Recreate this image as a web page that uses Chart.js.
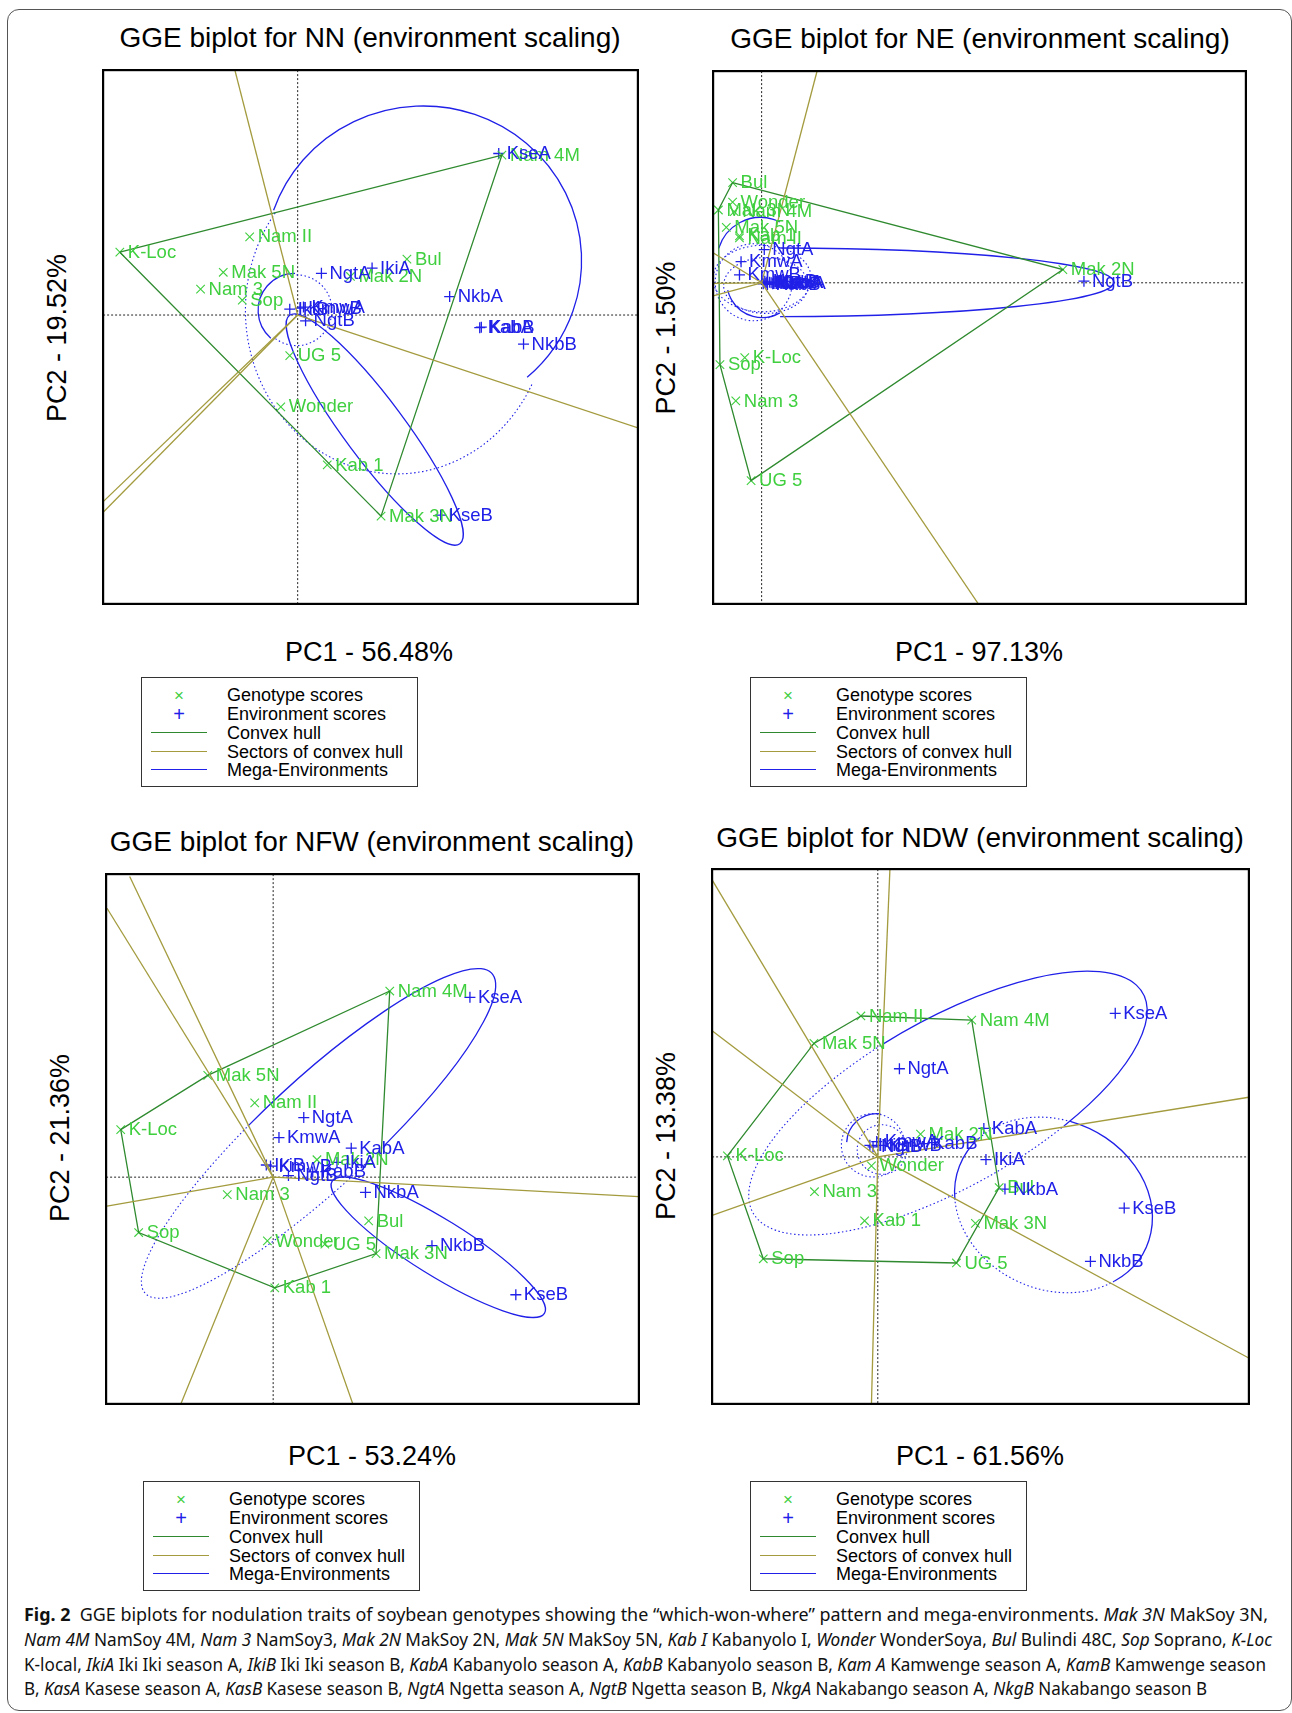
<!DOCTYPE html>
<html>
<head>
<meta charset="utf-8">
<title>GGE biplots for nodulation traits</title>
<script src="https://cdn.jsdelivr.net/npm/chart.js@4.4.1/dist/chart.umd.min.js"></script>
<style>
  html, body { margin: 0; padding: 0; background: #fff; }
  body { width: 1292px; height: 1713px; position: relative; overflow: hidden;
         font-family: "Liberation Sans", Arial, Helvetica, sans-serif; color: #000; }
  .frame { position: absolute; left: 7px; top: 9px; width: 1285px; height: 1702px;
           border: 1px solid #555; border-radius: 12px; box-sizing: border-box; }
  .t { position: absolute; white-space: nowrap; line-height: 1; transform: translate(-50%, -50%); }
  .title { font-size: 28px; }
  .axl { font-size: 27px; }
  .yl { transform: translate(-50%, -50%) rotate(-90deg); }
  .plot { position: absolute; }
  .legend { position: absolute; width: 277px; height: 110px; border: 1.5px solid #333;
            box-sizing: border-box; background: #fff; }
  .lg-row { position: absolute; left: 85px; font-size: 18px; line-height: 1; transform: translateY(-50%); white-space: nowrap; }
  .lg-sym { position: absolute; left: 37px; line-height: 1; transform: translate(-50%, -50%); }
  .lg-line { position: absolute; left: 9px; width: 56px; height: 0; }
  .cap { position: absolute; left: 24px; white-space: nowrap; font-family: "Noto Sans", "Open Sans", sans-serif;
         font-size: 18px; line-height: 1; transform-origin: 0 0; color: #111; }
  .cap b { font-weight: 700; }
</style>
</head>
<body>
<div class="frame"></div>

<div class="t title" style="left:370px;top:38px">GGE biplot for NN (environment scaling)</div>
<div class="t title" style="left:980px;top:38.5px">GGE biplot for NE (environment scaling)</div>
<div class="t title" style="left:372px;top:842px">GGE biplot for NFW (environment scaling)</div>
<div class="t title" style="left:980px;top:838px">GGE biplot for NDW (environment scaling)</div>

<div class="t axl" style="left:369px;top:652px">PC1 - 56.48%</div>
<div class="t axl" style="left:979px;top:652px">PC1 - 97.13%</div>
<div class="t axl" style="left:372px;top:1456px">PC1 - 53.24%</div>
<div class="t axl" style="left:980px;top:1456px">PC1 - 61.56%</div>

<div class="t axl yl" style="left:57px;top:338px">PC2 - 19.52%</div>
<div class="t axl yl" style="left:666px;top:338px">PC2 - 1.50%</div>
<div class="t axl yl" style="left:60px;top:1138px">PC2 - 21.36%</div>
<div class="t axl yl" style="left:666px;top:1136px">PC2 - 13.38%</div>

<div class="plot" style="left:96px;top:63px;width:549px;height:548px"><canvas id="nn" width="549" height="548"></canvas></div>
<div class="plot" style="left:706px;top:64px;width:547px;height:547px"><canvas id="ne" width="547" height="547"></canvas></div>
<div class="plot" style="left:99px;top:867px;width:547px;height:544px"><canvas id="nfw" width="547" height="544"></canvas></div>
<div class="plot" style="left:705px;top:862px;width:551px;height:549px"><canvas id="ndw" width="551" height="549"></canvas></div>

<div id="legends"></div>

<div class="cap" id="cap1" style="top:1605px"><b>Fig. 2</b>&nbsp; GGE biplots for nodulation traits of soybean genotypes showing the “which-won-where” pattern and mega-environments. <i>Mak 3N</i> MakSoy 3N,</div>
<div class="cap" id="cap2" style="top:1630px"><i>Nam 4M</i> NamSoy 4M, <i>Nam 3</i> NamSoy3, <i>Mak 2N</i> MakSoy 2N, <i>Mak 5N</i> MakSoy 5N, <i>Kab I</i> Kabanyolo I, <i>Wonder</i> WonderSoya, <i>Bul</i> Bulindi 48C, <i>Sop</i> Soprano, <i>K-Loc</i></div>
<div class="cap" id="cap3" style="top:1655px">K-local, <i>IkiA</i> Iki Iki season A, <i>IkiB</i> Iki Iki season B, <i>KabA</i> Kabanyolo season A, <i>KabB</i> Kabanyolo season B, <i>Kam A</i> Kamwenge season A, <i>KamB</i> Kamwenge season</div>
<div class="cap" id="cap4" style="top:1679px">B, <i>KasA</i> Kasese season A, <i>KasB</i> Kasese season B, <i>NgtA</i> Ngetta season A, <i>NgtB</i> Ngetta season B, <i>NkgA</i> Nakabango season A, <i>NkgB</i> Nakabango season B</div>

<script>
// ---------------------------------------------------------------
// Names shared by all four biplots
// ---------------------------------------------------------------
const genotypes = ['Mak 3N', 'Nam 4M', 'Nam 3', 'Mak 2N', 'Mak 5N', 'Kab 1',
                   'Wonder', 'Bul', 'Sop', 'K-Loc', 'Nam II', 'UG 5'];
const environments = ['IkiA', 'IkiB', 'KabA', 'KabB', 'KmwA', 'KmwB',
                      'KseA', 'KseB', 'NgtA', 'NgtB', 'NkbA', 'NkbB'];
const legendItems = ['Genotype scores', 'Environment scores', 'Convex hull',
                     'Sectors of convex hull', 'Mega-Environments'];

// ---------------------------------------------------------------
// NN: number of nodules
// ---------------------------------------------------------------
const nnGenoPC1 = [1.58, 3.87, -1.84, 1.00, -1.41, 0.56, -0.32, 2.07, -1.05, -3.37, -0.91, -0.15];
const nnGenoPC2 = [-3.81, 3.03, 0.49, 0.73, 0.81, -2.84, -1.74, 1.06, 0.28, 1.19, 1.48, -0.77];
const nnEnvPC1 = [1.41, -0.15, 3.45, 3.48, 0.11, 0.05, 3.81, 2.71, 0.45, 0.15, 2.88, 4.28];
const nnEnvPC2 = [0.89, 0.11, -0.24, -0.23, 0.15, 0.13, 3.06, -3.79, 0.79, -0.11, 0.35, -0.55];
const nnHull = ['K-Loc', 'Nam 4M', 'Mak 3N'];
const nnSectorPC1 = [-1.19, 6.45, -3.69, -3.69];
const nnSectorPC2 = [4.64, -2.14, -3.54, -3.74];
// mega-environment outlines: [PC1 centre, PC2 centre, radius 1, radius 2, tilt deg, from deg, to deg]
const nnMegaSolid = [[2.38, 1.03, 3.00, 2.93, 0, 199, 409], [-0.05, 0.09, 0.70, 0.70, 0, 131, 270],
                     [1.46, -2.17, 2.70, 0.57, 53.3, 0, 360]];
const nnMegaDotted = [[1.88, 0.09, 2.87, 3.10, 0, 27, 217], [-0.02, 0.09, 0.67, 0.67, 0, 270, 491]];

// ---------------------------------------------------------------
// NE: nodule effectiveness
// ---------------------------------------------------------------
const neGenoPC1 = [-0.82, -0.52, -0.49, 5.71, -0.67, -0.42, -0.55, -0.55, -0.79, -0.32, -0.42, -0.20];
const neGenoPC2 = [1.38, 1.35, -2.24, 0.25, 1.05, 0.89, 1.53, 1.90, -1.55, -1.42, 0.85, -3.75];
const neEnvPC1 = [0.08, 0.03, 0.15, 0.11, -0.39, -0.42, 0.18, 0.06, 0.05, 6.11, 0.21, 0.10];
const neEnvPC2 = [-0.01, -0.02, 0.01, -0.03, 0.40, 0.15, 0.00, 0.03, 0.63, 0.03, -0.02, 0.01];
const neHull = ['Bul', 'Mak 2N', 'UG 5', 'Sop', 'Mak 3N'];
const neSectorPC1 = [1.05, 4.11, -0.92, -0.92, -0.92];
const neSectorPC2 = [4.01, -6.09, -0.25, -0.01, 0.57];
const neMegaSolid = [[0.35, 0.01, 6.33, 0.65, 0, -90, 90], [-0.02, 0.41, 0.83, 0.83, 0, 197, 296],
                     [0.01, 0.01, 0.67, 0.67, 0, 60, 167]];
const neMegaDotted = [[0.01, 0.08, 0.93, 0.63, 0, 0, 360], [0.08, -0.05, 0.80, 0.53, 0, 0, 360],
                      [-0.15, 0.01, 0.73, 0.73, 0, 0, 360]];

// ---------------------------------------------------------------
// NFW: nodule fresh weight
// ---------------------------------------------------------------
const nfwGenoPC1 = [1.95, 2.21, -0.87, 0.83, -1.24, 0.03, -0.11, 1.81, -2.55, -2.89, -0.35, 0.98];
const nfwGenoPC2 = [-1.45, 3.53, -0.33, 0.33, 1.93, -2.10, -1.21, -0.83, -1.05, 0.90, 1.41, -1.27];
const nfwEnvPC1 = [1.21, -0.13, 1.48, 0.75, 0.11, -0.05, 3.73, 4.60, 0.58, 0.29, 1.75, 3.01];
const nfwEnvPC2 = [0.28, 0.23, 0.55, 0.10, 0.75, 0.21, 3.41, -2.23, 1.13, 0.03, -0.29, -1.30];
const nfwHull = ['Nam 4M', 'Mak 5N', 'K-Loc', 'Sop', 'Kab 1', 'Mak 3N'];
const nfwSectorPC1 = [-2.72, -3.15, -3.15, 6.93, -1.75, 1.51];
const nfwSectorPC2 = [5.70, 5.10, -0.55, -0.37, -4.30, -4.30];
const nfwMegaSolid = [[0.86, 0.83, 4.47, 1.03, -42.7, 258.5, 440], [3.13, -1.33, 2.37, 0.53, 31.9, 0, 360]];
const nfwMegaDotted = [[0.86, 0.83, 4.47, 1.03, -42.7, 80, 258.5]];

// ---------------------------------------------------------------
// NDW: nodule dry weight
// ---------------------------------------------------------------
const ndwGenoPC1 = [1.85, 1.78, -1.20, 0.81, -1.21, -0.25, -0.12, 2.30, -2.17, -2.85, -0.32, 1.49];
const ndwGenoPC2 = [-1.26, 2.59, -0.66, 0.43, 2.15, -1.21, -0.17, -0.58, -1.93, 0.02, 2.67, -2.01];
const ndwEnvPC1 = [2.05, -0.15, 2.01, 0.88, -0.02, 0.05, 4.50, 4.67, 0.41, -0.09, 2.41, 4.03];
const ndwEnvPC2 = [-0.05, 0.22, 0.54, 0.25, 0.29, 0.22, 2.72, -0.97, 1.67, 0.19, -0.61, -1.98];
const ndwHull = ['Nam II', 'Nam 4M', 'Bul', 'UG 5', 'Sop', 'K-Loc', 'Mak 5N'];
const ndwSectorPC1 = [0.23, -3.14, -3.14, -3.14, -0.12, 7.03, 7.03];
const ndwSectorPC2 = [5.45, 5.25, 2.39, -1.11, -4.68, -3.81, 1.13];
const ndwMegaSolid = [[1.33, 1.02, 4.24, 1.59, -29.4, 263, 426], [3.33, -0.91, 1.93, 1.60, 25, 259, 391],
                      [3.33, -0.91, 1.93, 1.60, 25, 154, 200], [-0.02, 0.25, 0.57, 0.57, 0, 183, 277]];
const ndwMegaDotted = [[1.33, 1.02, 4.24, 1.59, -29.4, 66, 263], [3.33, -0.91, 1.93, 1.60, 25, 31, 154],
                       [3.33, -0.91, 1.93, 1.60, 25, 200, 259], [-0.09, 0.22, 0.60, 0.60, 0, 0, 360],
                       [0.08, 0.14, 0.47, 0.47, 0, 0, 360]];

// ---------------------------------------------------------------
// Colours
// ---------------------------------------------------------------
const GENO = '#3fcf3f';
const ENV = '#2020e8';
const HULL = '#2f8a2f';
const SECTOR = '#a39b3e';

function points(px, py) { return px.map((v, i) => ({ x: v, y: py[i] })); }

function biplot(id, spec) {
  const geno = points(spec.gx, spec.gy);
  const env = points(spec.ex, spec.ey);
  const hull = spec.hull.map(n => geno[genotypes.indexOf(n)]);
  hull.push(hull[0]);

  const datasets = [];
  spec.sx.forEach((v, i) => datasets.push({
    data: [{ x: 0, y: 0 }, { x: v, y: spec.sy[i] }], showLine: true,
    borderColor: SECTOR, borderWidth: 1.3, pointRadius: 0
  }));
  datasets.push({ data: hull, showLine: true, borderColor: HULL, borderWidth: 1.3, pointRadius: 0 });
  const genoIdx = datasets.length;
  datasets.push({ data: geno, pointStyle: 'crossRot', pointRadius: 6, borderColor: GENO,
                  backgroundColor: GENO, pointBorderWidth: 1.1 });
  const envIdx = datasets.length;
  datasets.push({ data: env, pointStyle: 'cross', pointRadius: 5.5, borderColor: ENV,
                  backgroundColor: ENV, pointBorderWidth: 1.3 });

  const decorations = {
    id: 'decorations_' + id,
    beforeDatasetsDraw(chart) {
      const { ctx, chartArea: a, scales: { x, y } } = chart;
      ctx.save();
      ctx.beginPath(); ctx.rect(a.left, a.top, a.right - a.left, a.bottom - a.top); ctx.clip();
      // dotted reference lines through the origin
      const x0 = x.getPixelForValue(0), y0 = y.getPixelForValue(0);
      ctx.strokeStyle = '#222'; ctx.lineWidth = 1; ctx.setLineDash([2, 2]);
      ctx.beginPath();
      ctx.moveTo(x0, a.top); ctx.lineTo(x0, a.bottom);
      ctx.moveTo(a.left, y0); ctx.lineTo(a.right, y0);
      ctx.stroke();
      // mega-environment outlines
      const kx = Math.abs(x.getPixelForValue(1) - x.getPixelForValue(0));
      const ky = Math.abs(y.getPixelForValue(1) - y.getPixelForValue(0));
      const rad = d => d * Math.PI / 180;
      const arc = e => {
        ctx.beginPath();
        ctx.ellipse(x.getPixelForValue(e[0]), y.getPixelForValue(e[1]), e[2] * kx, e[3] * ky,
                    rad(e[4]), rad(e[5]), rad(e[6]));
        ctx.stroke();
      };
      ctx.strokeStyle = ENV;
      ctx.setLineDash([]); ctx.lineWidth = 1.3; spec.solid.forEach(arc);
      ctx.setLineDash([1.5, 2.5]); ctx.lineWidth = 1.1; spec.dotted.forEach(arc);
      ctx.restore();
    },
    afterDatasetsDraw(chart) {
      const { ctx, chartArea: a } = chart;
      ctx.save();
      ctx.beginPath(); ctx.rect(a.left, a.top, a.right - a.left, a.bottom - a.top); ctx.clip();
      ctx.font = '18.5px "Liberation Sans", Arial, sans-serif';
      ctx.textBaseline = 'middle';
      ctx.textAlign = 'left';
      const label = (idx, names, color) => {
        ctx.fillStyle = color;
        chart.getDatasetMeta(idx).data.forEach((pt, i) => ctx.fillText(names[i], pt.x + 8, pt.y + 0.5));
      };
      label(genoIdx, genotypes, GENO);
      label(envIdx, environments, ENV);
      ctx.restore();
    },
    afterDraw(chart) {
      const { ctx, chartArea: a } = chart;
      ctx.save();
      ctx.strokeStyle = '#000'; ctx.lineWidth = 2.2;
      ctx.strokeRect(a.left, a.top, a.right - a.left, a.bottom - a.top);
      ctx.restore();
    }
  };

  new Chart(document.getElementById(id), {
    type: 'scatter',
    data: { datasets },
    options: {
      responsive: false,
      animation: false,
      events: [],
      layout: { padding: 3 },
      scales: {
        x: { type: 'linear', min: spec.range[0], max: spec.range[1], display: false },
        y: { type: 'linear', min: spec.range[2], max: spec.range[3], display: false }
      },
      plugins: { legend: { display: false }, tooltip: { enabled: false } }
    },
    plugins: [decorations]
  });
}

biplot('nn', { gx: nnGenoPC1, gy: nnGenoPC2, ex: nnEnvPC1, ey: nnEnvPC2, hull: nnHull,
  sx: nnSectorPC1, sy: nnSectorPC2, solid: nnMegaSolid, dotted: nnMegaDotted,
  range: [-3.687, 6.447, -5.473, 4.64] });
biplot('ne', { gx: neGenoPC1, gy: neGenoPC2, ex: neEnvPC1, ey: neEnvPC2, hull: neHull,
  sx: neSectorPC1, sy: neSectorPC2, solid: neMegaSolid, dotted: neMegaDotted,
  range: [-0.92, 9.18, -6.087, 4.013] });
biplot('nfw', { gx: nfwGenoPC1, gy: nfwGenoPC2, ex: nfwEnvPC1, ey: nfwEnvPC2, hull: nfwHull,
  sx: nfwSectorPC1, sy: nfwSectorPC2, solid: nfwMegaSolid, dotted: nfwMegaDotted,
  range: [-3.167, 6.933, -4.3, 5.747] });
biplot('ndw', { gx: ndwGenoPC1, gy: ndwGenoPC2, ex: ndwEnvPC1, ey: ndwEnvPC2, hull: ndwHull,
  sx: ndwSectorPC1, sy: ndwSectorPC2, solid: ndwMegaSolid, dotted: ndwMegaDotted,
  range: [-3.14, 7.033, -4.68, 5.453] });

// ---------------------------------------------------------------
// Legend boxes under each biplot
// ---------------------------------------------------------------
const legendSpots = [[141, 677], [750, 677], [143, 1481], [750, 1481]];
const rowOffsets = [17, 36, 55, 73.5, 92];
const host = document.getElementById('legends');
legendSpots.forEach(([lx, ly]) => {
  const box = document.createElement('div');
  box.className = 'legend';
  box.style.left = lx + 'px'; box.style.top = ly + 'px';
  let html = '';
  html += `<div class="lg-sym" style="top:${rowOffsets[0]}px;color:${GENO};font-size:17px">×</div>`;
  html += `<div class="lg-sym" style="top:${rowOffsets[1]}px;color:${ENV};font-size:20px">+</div>`;
  [HULL, SECTOR, ENV].forEach((c, k) => {
    html += `<div class="lg-line" style="top:${rowOffsets[k + 2] - 1}px;border-top:1.5px solid ${c}"></div>`;
  });
  legendItems.forEach((txt, k) => {
    html += `<div class="lg-row" style="top:${rowOffsets[k]}px">${txt}</div>`;
  });
  box.innerHTML = html;
  host.appendChild(box);
});

// ---------------------------------------------------------------
// Caption: fit each line to the text block width
// ---------------------------------------------------------------
function fitCaption() {
  const widths = { cap1: 1244, cap2: 1248, cap3: 1242, cap4: 1183 };
  Object.keys(widths).forEach(id => {
    const el = document.getElementById(id);
    el.style.transform = 'none';
    const w = el.getBoundingClientRect().width;
    el.style.transform = `scaleX(${widths[id] / w})`;
  });
}
if (document.fonts && document.fonts.ready) document.fonts.ready.then(fitCaption); else fitCaption();
fitCaption();
</script>
</body>
</html>
